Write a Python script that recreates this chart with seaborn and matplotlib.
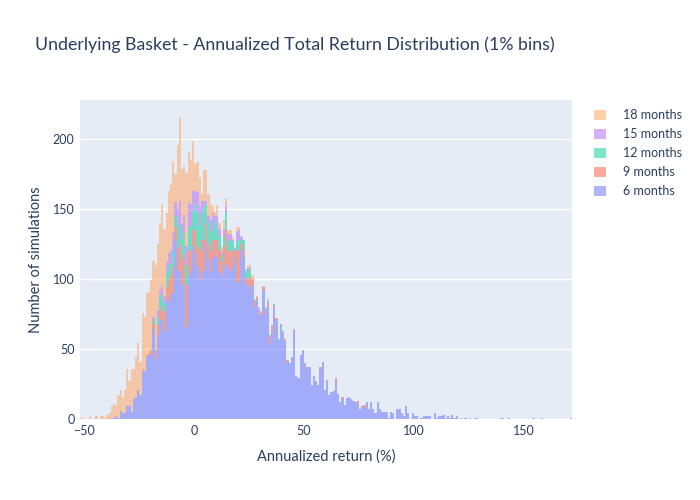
import numpy as np
import pandas as pd
import seaborn as sns
import matplotlib.pyplot as plt

# ---------------- data (counts per 1% bin; each list starts at its START value) ----------------
HORIZONS = ["18 months", "15 months", "12 months", "9 months", "6 months"]
COLORS = ["#FFA15A", "#AB63FA", "#00CC96", "#EF553B", "#636EFA"]

START_6 = -40
COUNTS_6 = [
    0, 0, 1, 1, 2, 1, 6, 4, 4, 9,            # -40 .. -31
    9, 5, 14, 16, 21, 17, 34, 34, 44, 46,     # -30 .. -21
    46, 64, 43, 59, 71, 71, 63, 84, 84, 89,   # -20 .. -11
    89, 127, 106, 106, 96, 96, 66, 103, 106, 123,  # -10 .. -1
    118, 109, 100, 105, 106, 125, 114, 105, 116, 116,  # 0 .. 9
    115, 105, 102, 111, 109, 108, 106, 109, 116, 98,   # 10 .. 19
    97, 121, 115, 96, 96, 93, 96, 81, 86, 74,  # 20 .. 29
    75, 92, 75, 80, 54, 61, 79, 71, 56, 67,    # 30 .. 39
    62, 56, 41, 40, 44, 63, 31, 29, 46, 49,    # 40 .. 49
    39, 36, 37, 24, 31, 27, 24, 36, 41, 21,    # 50 .. 59
    27, 17, 19, 20, 28, 18, 12, 14, 10, 15,    # 60 .. 69
    16, 14, 13, 12, 11, 7, 9, 8, 12, 7,        # 70 .. 79
    12, 7, 4, 12, 7, 5, 5, 5, 1, 5,            # 80 .. 89
    4, 0, 7, 7, 4, 2, 9, 4, 0, 4,              # 90 .. 99
    2, 2, 0, 1, 2, 2, 2, 2, 0, 4,              # 100 .. 109
    1, 2, 2, 3, 1, 2, 1, 3, 1, 2,              # 110 .. 119
    0, 1, 0, 1, 0, 1, 0, 0, 1, 0,              # 120 .. 129
    0, 0, 0, 0, 0, 0, 0, 0, 0, 1,              # 130 .. 139
    1, 0, 0, 1, 0, 0, 0, 0, 0, 0,              # 140 .. 149
    0, 0, 0, 0, 1, 0, 0, 0, 1, 0,              # 150 .. 159
    0, 0, 0, 0, 0, 0, 0, 0, 0, 0,              # 160 .. 169
    0, 1,                                       # 170 .. 171
]

START_9 = -24
COUNTS_9 = [
    2, 0, 2, 1,                                # -24 .. -21
    3, 4, 6, 8, 6, 10, 14, 10, 16, 14,         # -20 .. -11
    20, 10, 16, 20, 18, 22, 30, 18, 14, 12,    # -10 .. -1
    17, 14, 20, 23, 22, 15, 11, 15, 12, 12,    # 0 .. 9
    13, 16, 10, 12, 26, 12, 14, 12, 4, 22,     # 10 .. 19
    24, 4, 6, 4, 5, 8, 4, 3, 1, 2,             # 20 .. 29
    1, 2, 3, 3, 5, 6, 2, 1, 0, 1,              # 30 .. 39
    0, 1, 1, 0, 0, 1, 0, 0, 0, 0,              # 40 .. 49
    1, 1, 0, 0, 0, 0, 0, 1, 0, 0,              # 50 .. 59
    1, 0, 0, 0, 1, 0, 0, 2, 0, 0,              # 60 .. 69
    0, 0, 0, 0, 2, 0, 0, 2,                    # 70 .. 77
]

START_12 = -20
COUNTS_12 = [
    0, 2, 0, 6, 10, 8, 6, 10, 10, 8,           # -20 .. -11
    12, 8, 16, 14, 14, 16, 14, 16, 18, 14,     # -10 .. -1
    19, 24, 18, 19, 24, 13, 15, 14, 14, 7,     # 0 .. 9
    12, 10, 5, 8, 13, 8, 8, 5, 1, 8,           # 10 .. 19
    6, 3, 7, 6, 7, 5, 0, 1, 0, 0,              # 20 .. 29
    0, 0, 1, 2, 1, 0, 1, 0, 1, 0,              # 30 .. 39
    1,                                          # 40
]

START_15 = -20
COUNTS_15 = [
    0, 3, 0, 5, 5, 6, 4, 8, 9, 10,             # -20 .. -11
    12, 10, 12, 16, 12, 12, 14, 18, 16, 14,    # -10 .. -1
    9, 15, 14, 9, 4, 3, 5, 8, 5, 10,           # 0 .. 9
    5, 5, 3, 5, 4, 4, 4, 2, 1, 6,              # 10 .. 19
    8, 2, 0, 0, 0, 2, 0, 0, 0, 3,              # 20 .. 29
]

START_18 = -52
COUNTS_18 = [
    1, 1, 0, 0, 2, 0, 1, 2, 0, 2, 2, 1,        # -52 .. -41
    3, 4, 8, 10, 8, 16, 15, 11, 17, 27,        # -40 .. -31
    18, 31, 22, 28, 33, 24, 40, 39, 44, 44,    # -30 .. -21
    50, 40, 61, 47, 48, 59, 49, 35, 44, 47,    # -20 .. -11
    51, 20, 46, 60, 39, 35, 52, 36, 31, 36,    # -10 .. -1
    19, 22, 20, 5, 22, 22, 16, 12, 5, 3,       # 0 .. 9
    8, 4, 3, 6, 6, 3, 3, 2, 1, 3,              # 10 .. 19
    2, 1, 0, 1, 2, 2, 3, 1, 1, 1,              # 20 .. 29
    1, 1, 1, 1,                                 # 30 .. 33
]

X_TICKS = [-50, 0, 50, 100, 150]
Y_TICKS = [0, 50, 100, 150, 200]
X_RANGE = (-52, 172)
Y_RANGE = (0, 228)

TITLE = "Underlying Basket - Annualized Total Return Distribution (1% bins)"
XLABEL = "Annualized return (%)"
YLABEL = "Number of simulations"

# ---------------- tidy table of bins ----------------
series = {
    "6 months": (START_6, COUNTS_6),
    "9 months": (START_9, COUNTS_9),
    "12 months": (START_12, COUNTS_12),
    "15 months": (START_15, COUNTS_15),
    "18 months": (START_18, COUNTS_18),
}
rows = []
for name, (start, counts) in series.items():
    for i, c in enumerate(counts):
        rows.append({"ret": start + i + 0.5, "count": c, "horizon": name})
df = pd.DataFrame(rows)

# ---------------- style ----------------
TEXT = "#2a3f5f"
BG = "#E5ECF6"
sns.set_theme(style="darkgrid", rc={
    "axes.facecolor": BG,
    "grid.color": "white",
    "grid.linewidth": 1.0,
})
plt.rcParams["font.family"] = ["Lato", "DejaVu Sans"]

fig = plt.figure(figsize=(7, 5), dpi=100)
ax = fig.add_axes([80 / 700, 1 - 419 / 500, (572 - 80) / 700, (419 - 100) / 500])

sns.histplot(
    data=df, x="ret", weights="count", hue="horizon",
    hue_order=HORIZONS, palette=dict(zip(HORIZONS, COLORS)),
    multiple="stack", binwidth=1, binrange=X_RANGE,
    alpha=0.5, linewidth=0, element="bars", ax=ax,
)

ax.set_xlim(*X_RANGE)
ax.set_ylim(*Y_RANGE)
ax.set_xticks(X_TICKS)
ax.set_yticks(Y_TICKS)
ax.xaxis.grid(False)
ax.yaxis.grid(True)
for s in ax.spines.values():
    s.set_visible(False)
ax.tick_params(axis="both", length=0, labelsize=9, colors=TEXT, pad=4)
ax.set_xlabel(XLABEL, fontsize=10.5, color=TEXT, labelpad=9)
ax.set_ylabel(YLABEL, fontsize=10.5, color=TEXT, labelpad=7)

sns.move_legend(
    ax, "upper left", bbox_to_anchor=(1.03, 0.995), frameon=False, title=None,
    fontsize=9, handlelength=0.9, handleheight=0.9, handletextpad=1.4,
    labelspacing=0.56, borderaxespad=0.2,
)
for t in ax.get_legend().get_texts():
    t.set_color(TEXT)

fig.text(35 / 700, 1 - 45 / 500, TITLE, fontsize=12.8, color=TEXT, va="center", ha="left")

fig.savefig("out.png", dpi=100)
